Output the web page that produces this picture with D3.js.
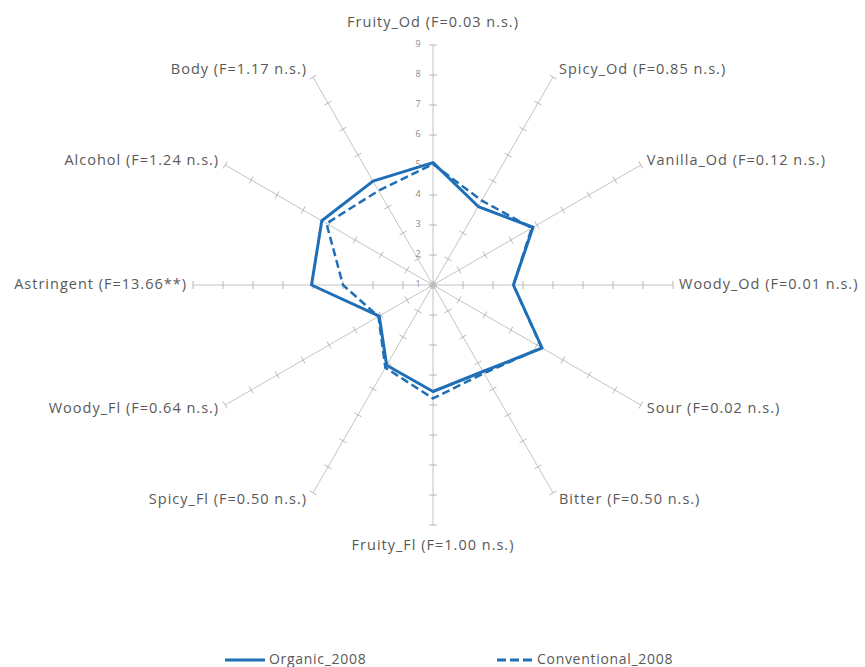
<!DOCTYPE html>
<html>
<head>
<meta charset="utf-8">
<script src="https://cdn.jsdelivr.net/npm/d3@7"></script>
<style>
  html, body { margin: 0; padding: 0; background: #fff; }
  svg { display: block; }
  text { font-family: "Open Sans", Lato, sans-serif; }
</style>
</head>
<body>
<svg id="chart" width="865" height="667"></svg>
<script>
// Sensory attributes, clockwise from the top
const categories = ["Fruity_Od", "Spicy_Od", "Vanilla_Od", "Woody_Od", "Sour", "Bitter",
                    "Fruity_Fl", "Spicy_Fl", "Woody_Fl", "Astringent", "Alcohol", "Body"];
// ANOVA result shown next to each attribute
const fStats = ["F=0.03 n.s.", "F=0.85 n.s.", "F=0.12 n.s.", "F=0.01 n.s.", "F=0.02 n.s.", "F=0.50 n.s.",
                "F=1.00 n.s.", "F=0.50 n.s.", "F=0.64 n.s.", "F=13.66**", "F=1.24 n.s.", "F=1.17 n.s."];
// Mean panel scores
const organic2008      = [5.08, 4.02, 4.85, 3.68, 5.20, 4.33, 4.55, 4.09, 3.07, 5.05, 5.28, 5.00];
const conventional2008 = [5.03, 4.25, 4.80, 3.68, 5.18, 4.40, 4.78, 4.18, 3.10, 4.00, 5.10, 4.63];
const seriesNames = ["Organic_2008", "Conventional_2008"];
const tickValues = [1, 2, 3, 4, 5, 6, 7, 8, 9];

const svg = d3.select("#chart");
const cx = 433, cy = 285, R = 240;
const blue = "#1f6fb7";
const textColor = "#595959";

const r = d3.scaleLinear().domain([1, 9]).range([0, R]);
const angle = d3.scalePoint().domain(categories).range([0, 2 * Math.PI * (categories.length - 1) / categories.length]);

const g = svg.append("g").attr("transform", `translate(${cx},${cy})`);
const pt = (cat, v) => {
  const a = angle(cat);
  return [Math.sin(a) * r(v), -Math.cos(a) * r(v)];
};

// Spokes with tick marks
categories.forEach(c => {
  const a = angle(c);
  const end = pt(c, 9);
  g.append("line").attr("x1", 0).attr("y1", 0).attr("x2", end[0]).attr("y2", end[1])
    .attr("stroke", "#c4c4c4").attr("stroke-width", 1);
  const nx = Math.cos(a), ny = Math.sin(a); // perpendicular to spoke
  tickValues.forEach(t => {
    const p = pt(c, t);
    g.append("line")
      .attr("x1", p[0] - nx * 4).attr("y1", p[1] - ny * 4)
      .attr("x2", p[0] + nx * 4).attr("y2", p[1] + ny * 4)
      .attr("stroke", "#b8b8b8").attr("stroke-width", 1);
  });
});

// Value labels along the top spoke
g.selectAll("text.tick").data(tickValues).join("text")
  .attr("class", "tick")
  .attr("x", -15).attr("y", d => -r(d))
  .attr("text-anchor", "middle").attr("dominant-baseline", "middle")
  .attr("font-size", 9).attr("fill", "#8a8a8a")
  .text(d => d);

// Attribute labels outside the spokes
categories.forEach((c, i) => {
  const a = angle(c);
  const s = Math.sin(a), co = -Math.cos(a);
  const end = pt(c, 9);
  let x = end[0], y = end[1], anchor;
  if (Math.abs(s) < 0.01) {
    anchor = "middle";
    y += co < 0 ? -22 : 21;
  } else {
    anchor = s > 0 ? "start" : "end";
    x += s > 0 ? 6 : -6;
    y += co * 8;
  }
  g.append("text")
    .attr("x", x).attr("y", y)
    .attr("text-anchor", anchor).attr("dominant-baseline", "middle")
    .attr("font-size", 14.5).attr("letter-spacing", 1).attr("fill", textColor)
    .text(`${c} (${fStats[i]})`);
});

// Series outlines
const radial = d3.lineRadial()
  .angle((d, i) => angle(categories[i]))
  .radius(d => r(d))
  .curve(d3.curveLinearClosed);

g.append("path").datum(conventional2008)
  .attr("d", radial)
  .attr("fill", "none").attr("stroke", blue).attr("stroke-width", 2.5)
  .attr("stroke-dasharray", "8,4").attr("stroke-linejoin", "round");

g.append("path").datum(organic2008)
  .attr("d", radial)
  .attr("fill", "none").attr("stroke", blue).attr("stroke-width", 3)
  .attr("stroke-linejoin", "round");

// Legend
const legend = svg.append("g");
const legendItems = [
  { name: seriesNames[0], x1: 225, x2: 265, dash: null },
  { name: seriesNames[1], x1: 497, x2: 533, dash: "9,4" }
];
legendItems.forEach(d => {
  legend.append("line").attr("x1", d.x1).attr("x2", d.x2).attr("y1", 660).attr("y2", 660)
    .attr("stroke", blue).attr("stroke-width", 3)
    .attr("stroke-dasharray", d.dash);
  legend.append("text").attr("x", d.x2 + 4).attr("y", 660)
    .attr("dominant-baseline", "middle")
    .attr("font-size", 14).attr("letter-spacing", 0.7).attr("fill", textColor)
    .text(d.name);
});
</script>
</body>
</html>
